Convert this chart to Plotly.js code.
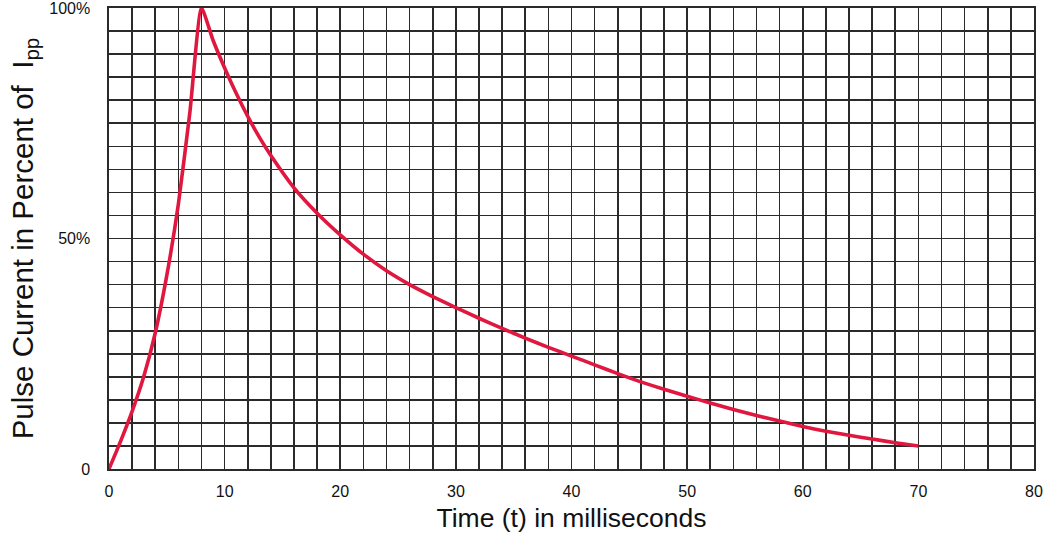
<!DOCTYPE html>
<html>
<head>
<meta charset="utf-8">
<script src="https://cdn.plot.ly/plotly-3.0.1.min.js"></script>
<style>html,body{margin:0;padding:0;background:#fff;}#chart{width:1048px;height:539px;}</style>
</head>
<body>
<div id="chart"></div>
<script>
// Time in milliseconds
var timeMs = [0, 1, 2, 3, 4, 5, 6, 7, 8,
  9, 10, 11, 12, 13, 14, 16, 18, 20, 22, 24, 26, 28, 30, 32, 34, 36, 38, 40,
  42, 44, 46, 48, 50, 52, 54, 56, 58, 60, 62, 64, 66, 68, 70];
// Pulse current in percent of Ipp
var pulsePct = [0, 6, 12.5, 20, 29.5, 42, 57.5, 77.5, 100,
  93, 87, 81.5, 76.5, 72, 68, 61, 55.5, 50.8, 46.6, 43, 40, 37.4, 35, 32.7, 30.5, 28.4, 26.4, 24.5,
  22.6, 20.7, 18.9, 17.3, 15.8, 14.3, 12.9, 11.6, 10.4, 9.2, 8.2, 7.3, 6.5, 5.7, 5.0];
var yTickVals = [0, 50, 100];
var yTickText = ['0', '50%', '100%'];

var gridCol = '#2a2a2a';
var trace = {
  x: timeMs, y: pulsePct, type: 'scatter', mode: 'lines',
  line: {color: '#e0173f', width: 3.6, shape: 'spline', smoothing: 0.5},
  hoverinfo: 'skip'
};
var layout = {
  width: 1048, height: 539,
  margin: {l: 109, r: 14, t: 8, b: 70},
  paper_bgcolor: '#fff', plot_bgcolor: '#fff',
  showlegend: false,
  font: {family: '"Liberation Sans", Arial, sans-serif', color: '#111'},
  xaxis: {
    range: [0, 80], dtick: 10, tick0: 0,
    showgrid: true, gridcolor: gridCol, gridwidth: 1.6,
    minor: {dtick: 2, tick0: 0, showgrid: true, gridcolor: gridCol, gridwidth: 1.6},
    showline: true, linecolor: gridCol, linewidth: 1.6, mirror: true,
    zeroline: false,
    ticks: 'outside', ticklen: 7, tickcolor: 'rgba(0,0,0,0)',
    tickfont: {size: 16, color: '#111'},
    title: {text: 'Time (t) in milliseconds', font: {size: 26.5, color: '#111'}, standoff: 9}
  },
  yaxis: {
    range: [0, 100], tickmode: 'array', tickvals: yTickVals, ticktext: yTickText,
    showgrid: true, gridcolor: gridCol, gridwidth: 1.6,
    minor: {tickmode: 'linear', dtick: 5, tick0: 0, showgrid: true, gridcolor: gridCol, gridwidth: 1.6},
    showline: true, linecolor: gridCol, linewidth: 1.6, mirror: true,
    zeroline: false,
    ticks: 'outside', ticklen: 14, tickcolor: 'rgba(0,0,0,0)',
    ticklabeloverflow: 'allow',
    tickfont: {size: 16, color: '#111'},
    title: {text: 'Pulse Current in Percent of\u00a0 I<sub>pp</sub>', font: {size: 29.5, color: '#111'}, standoff: 7}
  }
};
Plotly.newPlot('chart', [trace], layout, {staticPlot: true});
</script>
</body>
</html>
